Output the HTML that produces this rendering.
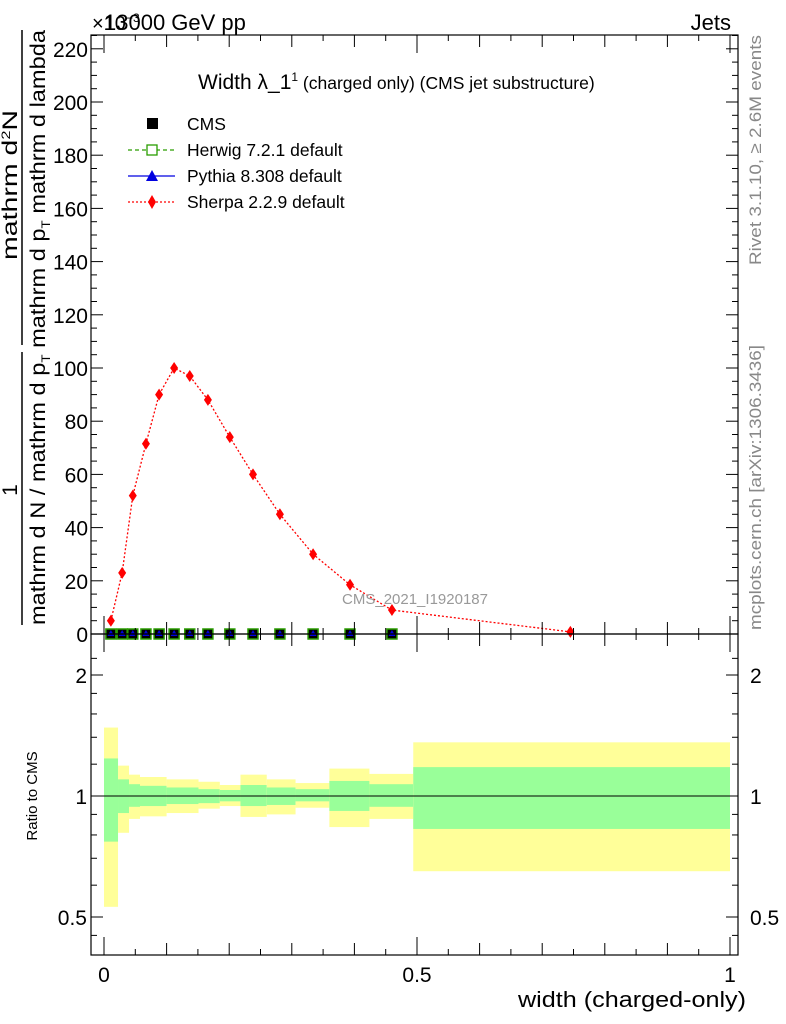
<!DOCTYPE html>
<html><head><meta charset="utf-8"><style>
body{margin:0;background:#fff;}
svg{display:block;font-family:"Liberation Sans",Arial,sans-serif;}
</style></head><body>
<svg id="chart" width="786" height="1024" viewBox="0 0 786 1024" xmlns="http://www.w3.org/2000/svg">
<g id="bands"></g>
<g id="marks"></g>
<g id="axes"></g>
<text x="92" y="30" font-size="20">×10<tspan font-size="12" dy="-8">−3</tspan></text>
<text x="104" y="30" font-size="22">13000 GeV pp</text>
<text x="731" y="30" font-size="22" text-anchor="end">Jets</text>
<text x="198" y="89" font-size="21">Width λ_1<tspan font-size="12" dy="-8">1</tspan><tspan font-size="17.5" dy="8"> (charged only) (CMS jet substructure)</tspan></text>
<g font-size="17.5">
<rect x="147" y="118" width="11" height="11" fill="#000"/>
<text x="187" y="130">CMS</text>
<line x1="128" y1="150" x2="175" y2="150" stroke="#2a9d00" stroke-dasharray="4,3" stroke-width="1.3"/>
<rect x="147" y="145" width="10" height="10" fill="#fff" stroke="#2a9d00" stroke-width="1.3"/>
<text x="187" y="156">Herwig 7.2.1 default</text>
<line x1="128" y1="176" x2="175" y2="176" stroke="#0000e0" stroke-width="1.3"/>
<polygon points="152,170 146,181 158,181" fill="#0000e0"/>
<text x="187" y="182">Pythia 8.308 default</text>
<line x1="128" y1="202" x2="175" y2="202" stroke="#f00" stroke-dasharray="2,2" stroke-width="1.3"/>
<polygon points="152,195 156,202 152,209 148,202" fill="#f00"/>
<text x="187" y="208">Sherpa 2.2.9 default</text>
</g>
<text x="415" y="604" font-size="15" fill="#999" text-anchor="middle">CMS_2021_I1920187</text>
<text transform="translate(761,265) rotate(-90)" font-size="17" fill="#888" textLength="230" lengthAdjust="spacingAndGlyphs">Rivet 3.1.10, ≥ 2.6M events</text>
<text transform="translate(761,630) rotate(-90)" font-size="17" fill="#888" textLength="285" lengthAdjust="spacingAndGlyphs">mcplots.cern.ch [arXiv:1306.3436]</text>
<g font-size="21">
<text transform="translate(17,260) rotate(-90)" textLength="150" lengthAdjust="spacingAndGlyphs">mathrm d<tspan font-size="12" dy="-7">2</tspan><tspan dy="7">N</tspan></text>
<line x1="22" y1="30" x2="22" y2="345" stroke="#000" stroke-width="1.5"/>
<text transform="translate(17,490) rotate(-90)" text-anchor="middle">1</text>
<line x1="22" y1="352" x2="22" y2="625" stroke="#000" stroke-width="1.5"/>
<text transform="translate(45,625) rotate(-90)" textLength="595" lengthAdjust="spacingAndGlyphs">mathrm d N / mathrm d p<tspan font-size="12" dy="5">T</tspan><tspan dy="-5"> mathrm d p</tspan><tspan font-size="12" dy="5">T</tspan><tspan dy="-5"> mathrm d lambda</tspan></text>
</g>
<text transform="translate(37,796) rotate(-90)" font-size="15" text-anchor="middle">Ratio to CMS</text>
<text x="518" y="1007" font-size="22" textLength="228" lengthAdjust="spacingAndGlyphs">width (charged-only)</text>
</svg>
<script>
const sherpaX=[0.011,0.029,0.046,0.067,0.088,0.112,0.137,0.166,0.201,0.238,0.281,0.334,0.393,0.46,0.745];
const sherpaY=[5,23,52,71.5,90,100,97,88,74,60,45,30,18.5,9,0.8];
const dataX=[0.011,0.029,0.046,0.067,0.088,0.112,0.137,0.166,0.201,0.238,0.281,0.334,0.393,0.46];
const dataY=[0,0,0,0,0,0,0,0,0,0,0,0,0,0];
const bandEdges=[0,0.0224,0.04,0.0575,0.1,0.151,0.185,0.218,0.26,0.306,0.36,0.424,0.494,1.0];
const yellowHi=[1.48,1.19,1.13,1.115,1.10,1.085,1.065,1.13,1.10,1.077,1.17,1.135,1.36];
const greenHi=[1.24,1.10,1.07,1.06,1.05,1.04,1.035,1.065,1.05,1.04,1.09,1.07,1.18];
const greenLo=[0.77,0.907,0.94,0.944,0.955,0.96,0.97,0.944,0.95,0.97,0.918,0.94,0.828];
const yellowLo=[0.53,0.81,0.877,0.89,0.907,0.93,0.944,0.887,0.90,0.935,0.837,0.877,0.65];
const yTicks=[0,20,40,60,80,100,120,140,160,180,200,220];
const rTicks=[0.5,1,2];

const NS="http://www.w3.org/2000/svg";
const L=91,R=738,T=35,B=634,RB=955;
const xs=v=>104+626*v;
const ys=v=>634-2.66*v;
const rs=r=>796-121*Math.log2(r);
function mk(tag,attrs,parent){const e=document.createElementNS(NS,tag);for(const k in attrs)e.setAttribute(k,attrs[k]);parent.appendChild(e);return e;}
const bands=document.getElementById('bands'),marks=document.getElementById('marks'),axes=document.getElementById('axes');
for(let i=0;i<yellowHi.length;i++){
 const x0=xs(bandEdges[i]),x1=xs(bandEdges[i+1]);
 const y=mk('rect',{x:x0,y:rs(yellowHi[i]),width:x1-x0,height:rs(yellowLo[i])-rs(yellowHi[i]),fill:'#ffff99'},bands);
 
 
 const g=mk('rect',{x:x0,y:rs(greenHi[i]),width:x1-x0,height:rs(greenLo[i])-rs(greenHi[i]),fill:'#99ff99'},bands);
 
 
}
mk('line',{x1:L,y1:rs(1),x2:R,y2:rs(1),stroke:'#000','stroke-width':1},bands);
const pl=mk('polyline',{points:sherpaX.map((x,i)=>xs(x)+','+ys(sherpaY[i])).join(' '),fill:'none',stroke:'#f00','stroke-width':1.3,'stroke-dasharray':'2,2'},marks);


dataX.forEach((x,i)=>{
 const cx=xs(x),cy=ys(dataY[i]);
 const s=mk('rect',{x:cx-5,y:cy-5,width:10,height:10,fill:'#000',stroke:'#2a9d00','stroke-width':1.5},marks);
 
 
 const t=mk('polygon',{points:`${cx},${cy-4} ${cx-3.5},${cy+2} ${cx+3.5},${cy+2}`,fill:'#0000e0'},marks);
 
 
});
sherpaX.forEach((x,i)=>{
 const cx=xs(x),cy=ys(sherpaY[i]);
 const d=mk('polygon',{points:`${cx},${cy-6} ${cx+4},${cy} ${cx},${cy+6} ${cx-4},${cy}`,fill:'#f00'},marks);
 
 
});
mk('rect',{x:L,y:T,width:R-L,height:B-T,fill:'none',stroke:'#000','stroke-width':1.2},axes);
mk('rect',{x:L,y:B,width:R-L,height:RB-B,fill:'none',stroke:'#000','stroke-width':1.2},axes);
for(let v=0;v<=225;v+=5){const y=ys(v),len=v%20===0?12:6;
 mk('line',{x1:L,y1:y,x2:L+len,y2:y,stroke:'#000'},axes);mk('line',{x1:R,y1:y,x2:R-len,y2:y,stroke:'#000'},axes);}
yTicks.forEach(v=>{const t=mk('text',{x:L-3,y:ys(v)+8,'font-size':21,'text-anchor':'end'},axes);t.textContent=v;
 
 });
for(let k=0;k<=20;k++){const v=k*0.05,x=xs(v);const len=k%10===0?18:(k%2===0?12:6);
 [[B,-1],[T,1],[RB,-1],[B,1]].forEach(([y0,d])=>mk('line',{x1:x,y1:y0,x2:x,y2:y0+d*len,stroke:'#000'},axes));}
[['0',0],['0.5',0.5],['1',1]].forEach(([s,v])=>{const t=mk('text',{x:xs(v),y:982,'font-size':21,'text-anchor':'middle'},axes);t.textContent=s;
 
 });
for(const r of [0.45,0.5,0.6,0.7,0.8,0.9,1,1.2,1.4,1.6,1.8,2,2.2]){const y=rs(r);if(y<B||y>RB)continue;const len=rTicks.includes(r)?12:6;
 mk('line',{x1:L,y1:y,x2:L+len,y2:y,stroke:'#000'},axes);mk('line',{x1:R,y1:y,x2:R-len,y2:y,stroke:'#000'},axes);}
rTicks.forEach(r=>{
 const a=mk('text',{x:L-4,y:rs(r)+8,'font-size':21,'text-anchor':'end'},axes);a.textContent=r;
 
 
 const b=mk('text',{x:R+12,y:rs(r)+8,'font-size':21},axes);b.textContent=r;
 
 
});
</script>
</body></html>
